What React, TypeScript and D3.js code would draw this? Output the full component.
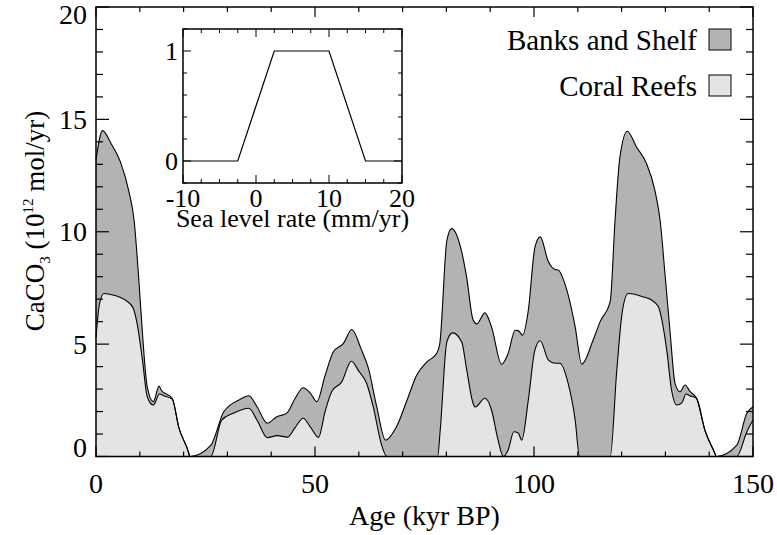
import React from "react";
import * as d3 from "d3";

// Total (Banks and Shelf + Coral Reefs), 10^12 mol/yr, vs age (kyr BP)
const ageTotal = [0, 1.5, 3.5, 5.6, 7.5, 8.7, 9.8, 10.6, 11.7, 13.1, 14.4, 14.9, 17.4, 18.9, 21.2, 21.4, 26.2, 29.2, 30.7, 32.5, 34.9, 36.8, 39.1, 41.3, 43.5, 45.5, 47.3, 49, 50.4, 52.3, 54.2, 56.5, 58.4, 60.5, 62.2, 64.1, 66.1, 68.6, 71, 73.2, 75.5, 77.8, 78.5, 80.1, 81.2, 83.5, 84.6, 86.1, 86.9, 88.8, 90.3, 92.6, 94.1, 95.7, 96.4, 97.4, 98.7, 100.2, 101.4, 103.3, 104.8, 105.5, 107.5, 109.4, 110.9, 113.5, 115.1, 117.4, 118.5, 119.6, 121.3, 123.4, 125.7, 127.6, 128.8, 129.9, 131.1, 132.2, 133.3, 134.5, 135.6, 137.1, 139.0, 141.3, 141.6, 146.3, 148.6, 150];
const total = [13.2, 14.5, 13.9, 13.1, 11.8, 10.5, 7.8, 5.5, 3.1, 2.44, 3.13, 2.95, 2.59, 1.3, 0.14, 0, 0.5, 2.0, 2.3, 2.5, 2.7, 2.2, 1.48, 1.77, 1.92, 2.6, 3.06, 2.8, 2.44, 3.6, 4.66, 5.03, 5.65, 4.8, 3.92, 2.21, 0.73, 1.32, 2.5, 3.62, 4.2, 4.59, 5.03, 9.6, 10.14, 9.1, 8.0, 6.07, 5.9, 6.39, 5.77, 4.1, 4.59, 5.62, 5.6, 5.4, 6.5, 9.3, 9.77, 8.66, 8.32, 8.3, 7.4, 5.77, 4.11, 5.18, 6.0, 6.9, 10.5, 13.3, 14.47, 13.77, 13.03, 11.84, 10.5, 8.14, 5.47, 3.25, 2.88, 3.18, 2.9, 2.59, 1.18, 0.14, 0, 0.51, 1.92, 2.21];

// Coral Reefs
const ageReef = [0, 0.8, 1.8, 3.5, 5.3, 7.1, 8.5, 9.4, 10.6, 11.7, 13.1, 14.5, 15.5, 17.4, 18.9, 21.2, 21.4, 26.2, 28.7, 31.3, 34.9, 36.8, 39.1, 41.4, 43.7, 45.5, 47.3, 49, 50.8, 52.3, 53.8, 56.1, 58.3, 60, 61.8, 63.3, 65.2, 66.4, 78.0, 78.6, 80.1, 81.4, 83.5, 84.6, 86.1, 86.6, 88.8, 90.3, 91.8, 93.0, 94.1, 95.4, 96.4, 97.2, 98.7, 100.2, 101.4, 103.3, 104.8, 105.9, 107.8, 109.4, 110.4, 117.4, 118.9, 120.2, 121.5, 125.0, 126.9, 128.4, 129.2, 130.4, 131.4, 132.6, 133.8, 134.7, 135.6, 137.1, 139.0, 141.3, 141.6, 146.3, 148.6, 150];
const reef = [5.3, 6.8, 7.25, 7.2, 7.1, 6.9, 6.6, 5.9, 4.3, 2.66, 2.29, 2.78, 2.7, 2.55, 1.3, 0.14, 0, 0, 1.62, 1.92, 2.15, 1.6, 0.84, 0.93, 0.86, 1.3, 1.7, 1.3, 0.85, 2.0, 2.88, 3.32, 4.24, 3.8, 3.25, 2.21, 0.51, 0, 0, 1.2, 5.1, 5.5, 5.1, 3.9, 2.36, 2.2, 2.59, 2.07, 0.73, 0, 0.29, 1.1, 1.05, 0.73, 2.51, 4.73, 5.15, 4.29, 4.15, 4.15, 3.25, 1.62, 0, 0, 3.84, 6.5, 7.25, 7.1, 6.95, 6.66, 6.07, 4.59, 2.96, 2.29, 2.4, 2.78, 2.7, 2.59, 1.18, 0.14, 0, 0, 1.1, 1.62];

const xTickLabels = [0, 50, 100, 150];
const yTickLabels = [0, 5, 10, 15, 20];

// Inset: fraction vs sea level rate
const insetRate = [-10, -2.5, 2.5, 10, 15, 20];
const insetFrac = [0, 0, 1, 1, 0, 0];
const insetXTicks = [-10, 0, 10, 20];
const insetYTicks = [0, 1];

const legendLabels = ["Banks and Shelf", "Coral Reefs"];
const DARK = "#b3b3b3";
const LIGHT = "#e4e4e4";
const FONT = "Liberation Serif, Times New Roman, Tinos, Nimbus Roman, DejaVu Serif, serif";

export default function App() {
  const W = 777, H = 535;
  const x = d3.scaleLinear().domain([0, 150]).range([96, 753]);
  const y = d3.scaleLinear().domain([0, 20]).range([456.5, 7]);

  const totalPts = ageTotal.map((a, i) => [a, total[i]] as [number, number]);
  const reefPts = ageReef.map((a, i) => [a, reef[i]] as [number, number]);

  const area = d3.area<[number, number]>().x(d => x(d[0])).y0(y(0)).y1(d => y(d[1])).curve(d3.curveMonotoneX);
  const line = d3.line<[number, number]>().x(d => x(d[0])).y(d => y(d[1])).curve(d3.curveMonotoneX);

  const xMinor = d3.range(0, 151, 10);
  const yMinor = d3.range(0, 21, 1);

  // inset
  const ix = d3.scaleLinear().domain([-10, 20]).range([183, 402]);
  const iy = d3.scaleLinear().domain([-0.2, 1.2]).range([183, 29]);
  const insetLine = d3.line<number>().x((_, i) => ix(insetRate[i])).y(d => iy(d));
  const ixMinor = d3.range(-10, 20.01, 2.5);
  const iyMinor = d3.range(-0.2, 1.201, 0.2);

  const [x0, x1] = x.range();
  const [yb, yt] = y.range();
  const ts = { fontFamily: FONT };

  return (
    <svg width={W} height={H} style={{ position: "absolute", left: 0, top: 0, background: "#fff", fontFamily: FONT }}>
      <path d={area(totalPts) || ""} fill={DARK} stroke="none" />
      <path d={area(reefPts) || ""} fill={LIGHT} stroke="none" />
      <path d={line(totalPts) || ""} fill="none" stroke="#000" strokeWidth={1.1} />
      <path d={line(reefPts) || ""} fill="none" stroke="#000" strokeWidth={1.1} />

      {/* frame */}
      <rect x={x0} y={yt} width={x1 - x0} height={yb - yt} fill="none" stroke="#000" strokeWidth={1.5} />
      {xMinor.map(v => {
        const len = v % 50 === 0 ? 10 : 5;
        return (
          <g key={"xt" + v}>
            <line x1={x(v)} x2={x(v)} y1={yb} y2={yb - len} stroke="#000" strokeWidth={1.2} />
            <line x1={x(v)} x2={x(v)} y1={yt} y2={yt + len} stroke="#000" strokeWidth={1.2} />
          </g>
        );
      })}
      {yMinor.map(v => {
        const len = v % 5 === 0 ? 13 : 7;
        return (
          <g key={"yt" + v}>
            <line x1={x0} x2={x0 + len} y1={y(v)} y2={y(v)} stroke="#000" strokeWidth={1.2} />
            <line x1={x1} x2={x1 - len} y1={y(v)} y2={y(v)} stroke="#000" strokeWidth={1.2} />
          </g>
        );
      })}
      {xTickLabels.map(v => (
        <text key={"xl" + v} x={x(v)} y={493} fontSize={28} textAnchor="middle" style={ts}>{v}</text>
      ))}
      {yTickLabels.map(v => {
        let yy = y(v) + 9.5;
        if (v === 0) yy = y(0);
        if (v === 20) yy = y(20) + 17;
        return <text key={"yl" + v} x={87} y={yy} fontSize={28} textAnchor="end" style={ts}>{v}</text>;
      })}
      <text x={(x0 + x1) / 2} y={525} fontSize={28} textAnchor="middle" style={ts}>Age (kyr BP)</text>
      <text transform="translate(44,221) rotate(-90)" fontSize={27} textAnchor="middle" style={ts}>
        CaCO<tspan dy={6} fontSize={15}>3</tspan>
        <tspan dy={-6}> (10</tspan>
        <tspan dy={-11} fontSize={15}>12</tspan>
        <tspan dy={11}> mol/yr)</tspan>
      </text>

      {/* legend */}
      {legendLabels.map((lab, i) => (
        <g key={lab}>
          <text x={697} y={50 + i * 46} fontSize={29} textAnchor="end" style={ts}>{lab}</text>
          <rect x={709} y={29 + i * 46} width={22} height={21} fill={i === 0 ? DARK : LIGHT} stroke="#000" strokeWidth={1} />
        </g>
      ))}

      {/* inset */}
      <rect x={183} y={29} width={219} height={154} fill="#fff" stroke="none" />
      <path d={insetLine(insetFrac) || ""} fill="none" stroke="#000" strokeWidth={1.2} />
      <rect x={183} y={29} width={219} height={154} fill="none" stroke="#000" strokeWidth={1.5} />
      {ixMinor.map(v => {
        const len = Math.abs(v % 10) < 1e-6 ? 8 : 4;
        return (
          <g key={"ixt" + v}>
            <line x1={ix(v)} x2={ix(v)} y1={183} y2={183 - len} stroke="#000" strokeWidth={1} />
            <line x1={ix(v)} x2={ix(v)} y1={29} y2={29 + len} stroke="#000" strokeWidth={1} />
          </g>
        );
      })}
      {iyMinor.map((v, i) => {
        const major = Math.abs(v) < 1e-6 || Math.abs(v - 1) < 1e-6;
        const len = major ? 8 : 4;
        return (
          <g key={"iyt" + i}>
            <line x1={183} x2={183 + len} y1={iy(v)} y2={iy(v)} stroke="#000" strokeWidth={1} />
            <line x1={402} x2={402 - len} y1={iy(v)} y2={iy(v)} stroke="#000" strokeWidth={1} />
          </g>
        );
      })}
      {insetXTicks.map(v => (
        <text key={"ixl" + v} x={ix(v)} y={207} fontSize={26} textAnchor="middle" style={ts}>{v}</text>
      ))}
      {insetYTicks.map(v => (
        <text key={"iyl" + v} x={178} y={iy(v) + 9} fontSize={26} textAnchor="end" style={ts}>{v}</text>
      ))}
      <text x={(183 + 402) / 2} y={227} fontSize={26} textAnchor="middle" style={ts}>Sea level rate (mm/yr)</text>
    </svg>
  );
}
